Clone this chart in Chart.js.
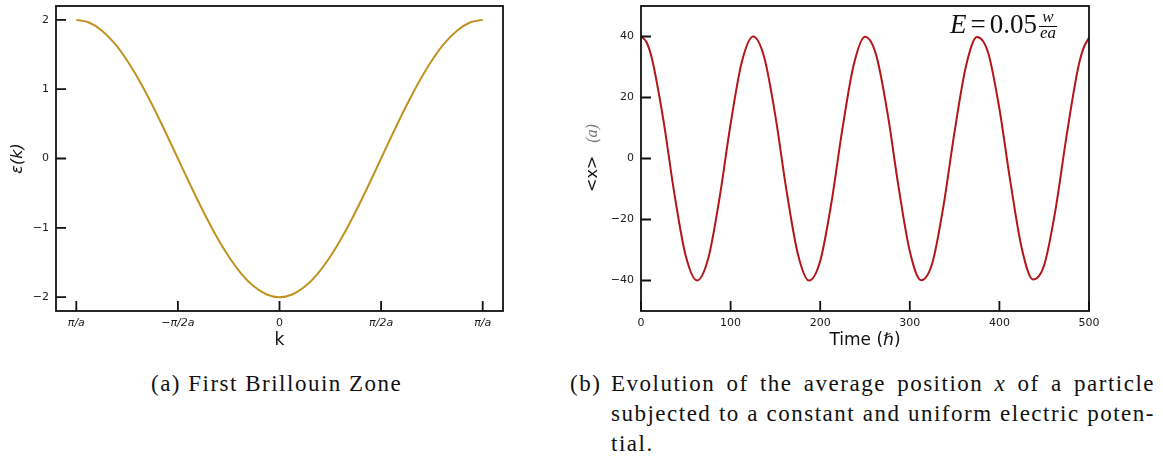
<!DOCTYPE html>
<html>
<head>
<meta charset="utf-8">
<script src="https://cdn.jsdelivr.net/npm/chart.js@4"></script>
<style>
  body { margin: 0; background: #fff; }
  #wrap { position: relative; width: 1163px; height: 457px; overflow: hidden; }
  #bandChart { position: absolute; left: 0; top: 0; }
  #posChart { position: absolute; left: 560px; top: 0; }
  .cap { position: absolute; font-family: 'Liberation Serif', serif; font-size: 23px; letter-spacing: 1.5px; color: #111; line-height: 30px; }
  #capA { left: 151px; top: 369px; white-space: nowrap; }
  #capB { left: 570px; top: 369px; width: 585px; }
  #capB .lbl { position: absolute; left: 0; top: 0; }
  #capB .ln { margin-left: 41px; text-align: justify; text-align-last: justify; white-space: nowrap; }
  #capB .ln.last { text-align-last: left; }
</style>
</head>
<body>
<div id="wrap">
  <canvas id="bandChart" width="560" height="360"></canvas>
  <canvas id="posChart" width="603" height="360"></canvas>
  <div class="cap" id="capA">(a) First Brillouin Zone</div>
  <div class="cap" id="capB">
    <span class="lbl">(b)</span>
    <div class="ln">Evolution of the average position <i>x</i> of a particle</div>
    <div class="ln">subjected to a constant and uniform electric poten-</div>
    <div class="ln last">tial.</div>
  </div>
</div>
<script>
// ---- (a) bande d'énergie, k en unités de π/a ----
const kVals = [-1, -0.9375, -0.875, -0.8125, -0.75, -0.6875, -0.625, -0.5625, -0.5,
  -0.4375, -0.375, -0.3125, -0.25, -0.1875, -0.125, -0.0625, 0,
  0.0625, 0.125, 0.1875, 0.25, 0.3125, 0.375, 0.4375, 0.5,
  0.5625, 0.625, 0.6875, 0.75, 0.8125, 0.875, 0.9375, 1];
const epsVals = [2.0, 1.962, 1.848, 1.663, 1.414, 1.111, 0.765, 0.39, 0,
  -0.39, -0.765, -1.111, -1.414, -1.663, -1.848, -1.962, -2.0,
  -1.962, -1.848, -1.663, -1.414, -1.111, -0.765, -0.39, 0,
  0.39, 0.765, 1.111, 1.414, 1.663, 1.848, 1.962, 2.0];
const kTicks = [-1, -0.5, 0, 0.5, 1];
const kTickLabels = ['π/a', '−π/2a', '0', 'π/2a', 'π/a'];
const epsTicks = [-2, -1, 0, 1, 2];

// ---- (b) position moyenne ----
const timeVals = [0, 6.25, 12.5, 25, 37.5, 50, 62.5, 75, 87.5, 100, 112.5, 125, 137.5, 150, 162.5,
  175, 187.5, 200, 212.5, 225, 237.5, 250, 262.5, 275, 287.5, 300, 312.5, 325, 337.5,
  350, 362.5, 375, 387.5, 400, 412.5, 425, 437.5, 450, 462.5, 475, 487.5, 493.75, 500];
const posVals = [40, 38.1, 32.4, 12.6, -12.0, -32.0, -40.0, -32.8, -13.2, 11.3, 31.6, 40.0, 33.2, 13.9, -10.7,
  -31.2, -40.0, -33.6, -14.5, 10.1, 30.8, 39.9, 33.9, 15.1, -9.4, -30.4, -39.9, -34.4, -15.7,
  8.8, 30.0, 39.8, 34.6, 16.3, -8.1, -29.5, -39.7, -34.9, -17.0, 7.5, 29.2, 36.1, 39.6];
const timeTicks = [0, 100, 200, 300, 400, 500];
const posTicks = [-40, -20, 0, 20, 40];

Chart.defaults.font.family = "'DejaVu Sans', sans-serif";
Chart.defaults.color = '#1a1a1a';
Chart.defaults.animation = false;

const minus = v => String(v).replace('-', '−');

// cadre + graduations vers l'intérieur
const frameTicks = {
  id: 'frameTicks',
  afterDatasetsDraw(chart) {
    const { ctx, chartArea: a, scales: { x, y } } = chart;
    ctx.save();
    ctx.strokeStyle = '#111';
    ctx.lineWidth = 1.8;
    ctx.strokeRect(a.left, a.top, a.right - a.left, a.bottom - a.top);
    ctx.beginPath();
    x.ticks.forEach(t => {
      const px = x.getPixelForValue(t.value);
      ctx.moveTo(px, a.bottom); ctx.lineTo(px, a.bottom - 10);
    });
    y.ticks.forEach(t => {
      const py = y.getPixelForValue(t.value);
      ctx.moveTo(a.left, py); ctx.lineTo(a.left + 10, py);
    });
    ctx.stroke();
    ctx.restore();
  }
};

function axisX(min, max, vals, fmt, fontFn) {
  return {
    type: 'linear', min, max,
    afterBuildTicks: s => { s.ticks = vals.map(v => ({ value: v })); },
    afterFit: s => { s.height = 49; s.paddingLeft = 0; s.paddingRight = 0; },
    grid: { display: false, drawTicks: false },
    border: { display: false },
    ticks: { autoSkip: false, maxRotation: 0, padding: 6, callback: fmt, font: fontFn || { size: 11 } }
  };
}
function axisY(min, max, vals, width) {
  return {
    type: 'linear', min, max,
    afterBuildTicks: s => { s.ticks = vals.map(v => ({ value: v })); },
    afterFit: s => { s.width = width; s.paddingTop = 0; s.paddingBottom = 0; },
    grid: { display: false, drawTicks: false },
    border: { display: false },
    ticks: { padding: 7, callback: v => minus(v), font: { size: 11 } }
  };
}

// --- GRAPHE (a) ---
const bandX = axisX(-1.1, 1.1, kTicks,
  v => kTickLabels[kTicks.indexOf(v)],
  c => ({ size: 11, style: (c.tick && c.tick.value === 0) ? 'normal' : 'italic' }));
bandX.title = { display: true, text: 'k', font: { size: 17 }, color: '#111', padding: { top: 0, bottom: 9 } };
const bandY = axisY(-2.2, 2.2, epsTicks, 56);
bandY.title = { display: true, text: 'ε(k)', font: { size: 16, style: 'italic' }, color: '#111', padding: { top: 8, bottom: 0 } };

new Chart(document.getElementById('bandChart'), {
  type: 'line',
  data: {
    datasets: [{
      data: kVals.map((k, i) => ({ x: k, y: epsVals[i] })),
      borderColor: '#c0921f',
      borderWidth: 2,
      pointRadius: 0,
      cubicInterpolationMode: 'monotone'
    }]
  },
  options: {
    responsive: false,
    layout: { padding: { top: 6, right: 57, left: 0, bottom: 0 } },
    plugins: { legend: { display: false }, tooltip: { enabled: false } },
    scales: { x: bandX, y: bandY }
  },
  plugins: [frameTicks]
});

// --- GRAPHE (b) ---
const posX = axisX(0, 500, timeTicks, v => String(v));
posX.title = { display: true, text: 'Time (ℏ)', font: { size: 17 }, color: '#111', padding: { top: 0, bottom: 9 } };
const posY = axisY(-50, 50, posTicks, 81);

const posLabels = {
  id: 'posLabels',
  afterDraw(chart) {
    const ctx = chart.ctx;
    ctx.save();
    // titre vertical "<x> (a)"
    ctx.translate(33, 192);
    ctx.rotate(-Math.PI / 2);
    ctx.textBaseline = 'middle';
    ctx.textAlign = 'left';
    ctx.fillStyle = '#111';
    ctx.font = "16px 'DejaVu Sans'";
    ctx.fillText('<x>', 0, 0);
    const w = ctx.measureText('<x>').width;
    ctx.fillStyle = '#777';
    ctx.font = "italic 16px 'Liberation Serif'";
    ctx.fillText('(a)', w + 13, 0);
    ctx.restore();

    // annotation E = 0.05 w/(ea)
    ctx.save();
    ctx.fillStyle = '#111';
    ctx.textBaseline = 'alphabetic';
    ctx.textAlign = 'left';
    let x = 390;
    const base = 33;
    ctx.font = "italic 27px 'Liberation Serif'";
    ctx.fillText('E', x, base);
    x += ctx.measureText('E').width + 4;
    ctx.font = "27px 'Liberation Serif'";
    ctx.fillText('=', x, base);
    x += ctx.measureText('=').width + 4;
    ctx.fillText('0.05', x, base);
    x += ctx.measureText('0.05').width + 2;
    ctx.font = "italic 17px 'Liberation Serif'";
    const wn = ctx.measureText('w').width, wd = ctx.measureText('ea').width;
    const fw = Math.max(wn, wd) + 2;
    ctx.textAlign = 'center';
    ctx.fillText('w', x + fw / 2, 22);
    ctx.fillText('ea', x + fw / 2, 38);
    ctx.fillRect(x, 26, fw, 1);
    ctx.restore();
  }
};

new Chart(document.getElementById('posChart'), {
  type: 'line',
  data: {
    datasets: [{
      data: timeVals.map((t, i) => ({ x: t, y: posVals[i] })),
      borderColor: '#b3151b',
      borderWidth: 2,
      pointRadius: 0,
      cubicInterpolationMode: 'monotone'
    }]
  },
  options: {
    responsive: false,
    layout: { padding: { top: 6, right: 74, left: 0, bottom: 0 } },
    plugins: { legend: { display: false }, tooltip: { enabled: false } },
    scales: { x: posX, y: posY }
  },
  plugins: [frameTicks, posLabels]
});
</script>
</body>
</html>
